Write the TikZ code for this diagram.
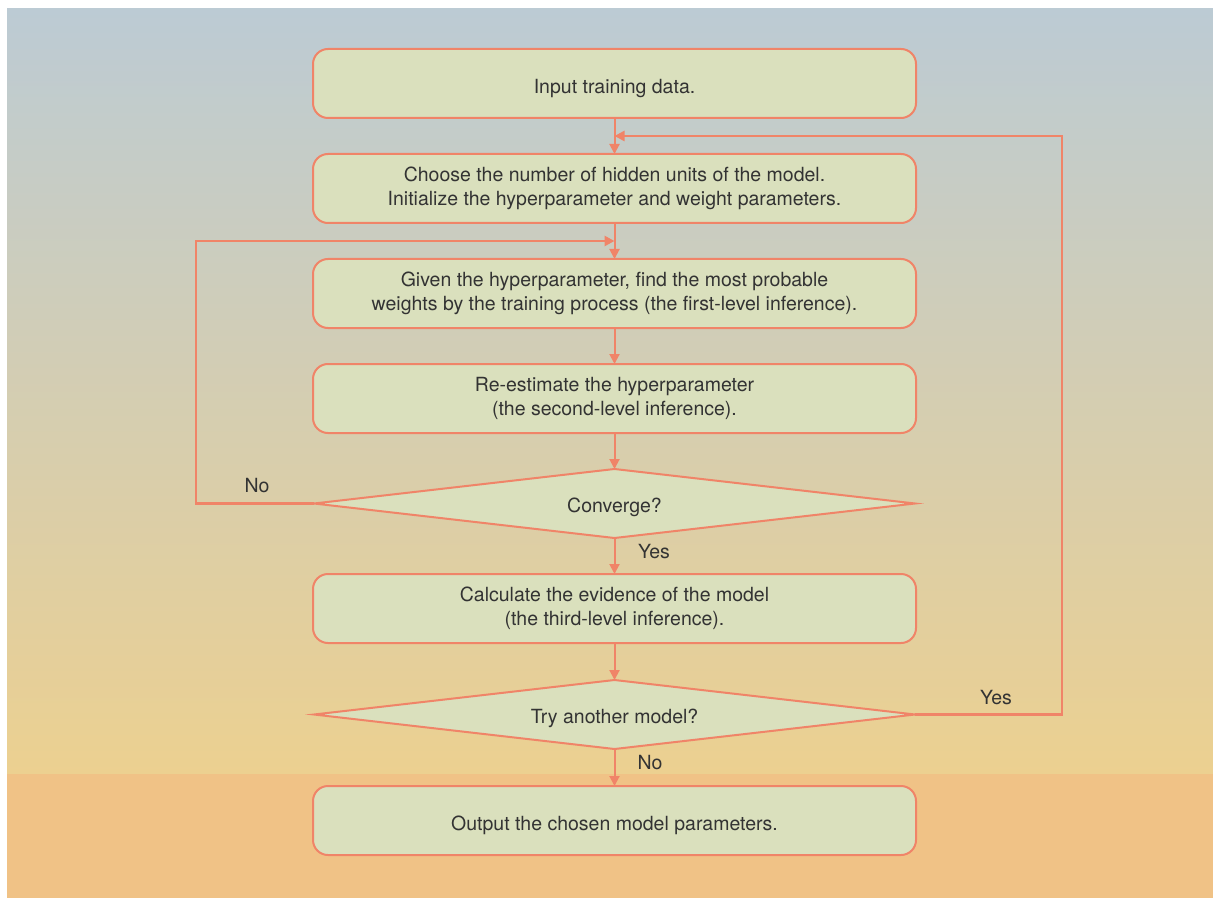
\documentclass[tikz,border=0pt]{standalone}
\usepackage{fontspec}
\setmainfont{TeX Gyre Heros}
\usetikzlibrary{arrows.meta,positioning,shapes.geometric,calc}

\definecolor{bgtop}{RGB}{188,203,212}
\definecolor{bgmid}{RGB}{210,205,190}
\definecolor{bgbot}{RGB}{236,208,144}
\definecolor{band}{RGB}{240,194,134}
\definecolor{boxfill}{RGB}{218,224,189}
\definecolor{rand}{RGB}{240,132,104}
\definecolor{tekst}{RGB}{51,51,51}

\begin{document}
\begin{tikzpicture}[
            x = 0.5pt, y = 0.5pt,
            font = \fontsize{9.75}{12}\selectfont,
            text = tekst,
            node distance = 18pt,
            stepbox/.style = {
                draw = rand, fill = boxfill,
                line width = 1pt,
                rounded corners = 7.5pt,
                align = center,
                outer sep = 0pt,
                minimum width = 301.5pt,
                minimum height = 34.5pt,
            },
            single/.style = {
                text height = 11pt,
                text depth = 1pt,
            },
            choice/.style = {
                draw = rand, fill = boxfill,
                line width = 1pt,
                diamond, inner sep = 0pt,
                outer sep = 0pt,
                aspect = 8.71,
                text height = 9.5pt,
                text depth = 1pt,
                minimum width = 300.5pt,
                minimum height = 34.5pt,
            },
            flow/.style = {
                draw = rand, line width = 1pt,
                -{Triangle[length = 5pt, width = 5pt]},
            },
            back/.style = {
                draw = rand, line width = 1.4pt,
                -{Triangle[length = 5pt, width = 5pt]},
            },
        ]

        % Achtergrond
        \useasboundingbox (0,0) rectangle (1213,-898);
        \shade[top color = bgtop, middle color = bgmid, bottom color = bgbot]
            (7,-9) rectangle (1213,-774);
        \fill[band] (7,-774) rectangle (1213,-898);

        % Stappen
        \node[stepbox, single] (input) at (614.5,-83.5) {Input training data.};
        \node[stepbox, below = of input] (choose) {Choose the number of hidden units of the model.\\Initialize the hyperparameter and weight parameters.};
        \node[stepbox, below = of choose] (given) {Given the hyperparameter, find the most probable\\weights by the training process (the first-level inference).};
        \node[stepbox, below = of given] (reestimate) {Re-estimate the hyperparameter\\(the second-level inference).};
        \node[choice, below = of reestimate] (converge) {Converge?};
        \node[stepbox, below = of converge] (evidence) {Calculate the evidence of the model\\(the third-level inference).};
        \node[choice, below = 18.5pt of evidence] (another) {Try another model?};
        \node[stepbox, single, below = 18.5pt of another] (output) {Output the chosen model parameters.};

        % Hulppunten
        \coordinate (join_top) at ($(input.south)!0.5!(choose.north)$);
        \coordinate (join_mid) at ($(choose.south)!0.5!(given.north)$);
        \coordinate (left_line) at (196,0);
        \coordinate (right_line) at (1062,0);

        % Pijlen
        \path[flow] (input) -- (choose);
        \path[flow] (choose) -- (given);
        \path[flow] (given) -- (reestimate);
        \path[flow] (reestimate) -- (converge);
        \path[flow] (converge) -- (evidence);
        \path[flow] (evidence) -- (another);
        \path[flow] (another) -- (output);

        \path[back] (converge.west) -- (converge.west -| left_line) |- (join_mid);
        \path[back] (another.east) -- (another.east -| right_line) |- (join_top);

        % Labels
        \node (no_converge) at (257,-486) {No};
        \node (yes_converge) at (654,-552) {Yes};
        \node (yes_another) at (996,-698) {Yes};
        \node (no_another) at (650,-763) {No};
    \end{tikzpicture}
\end{document}
